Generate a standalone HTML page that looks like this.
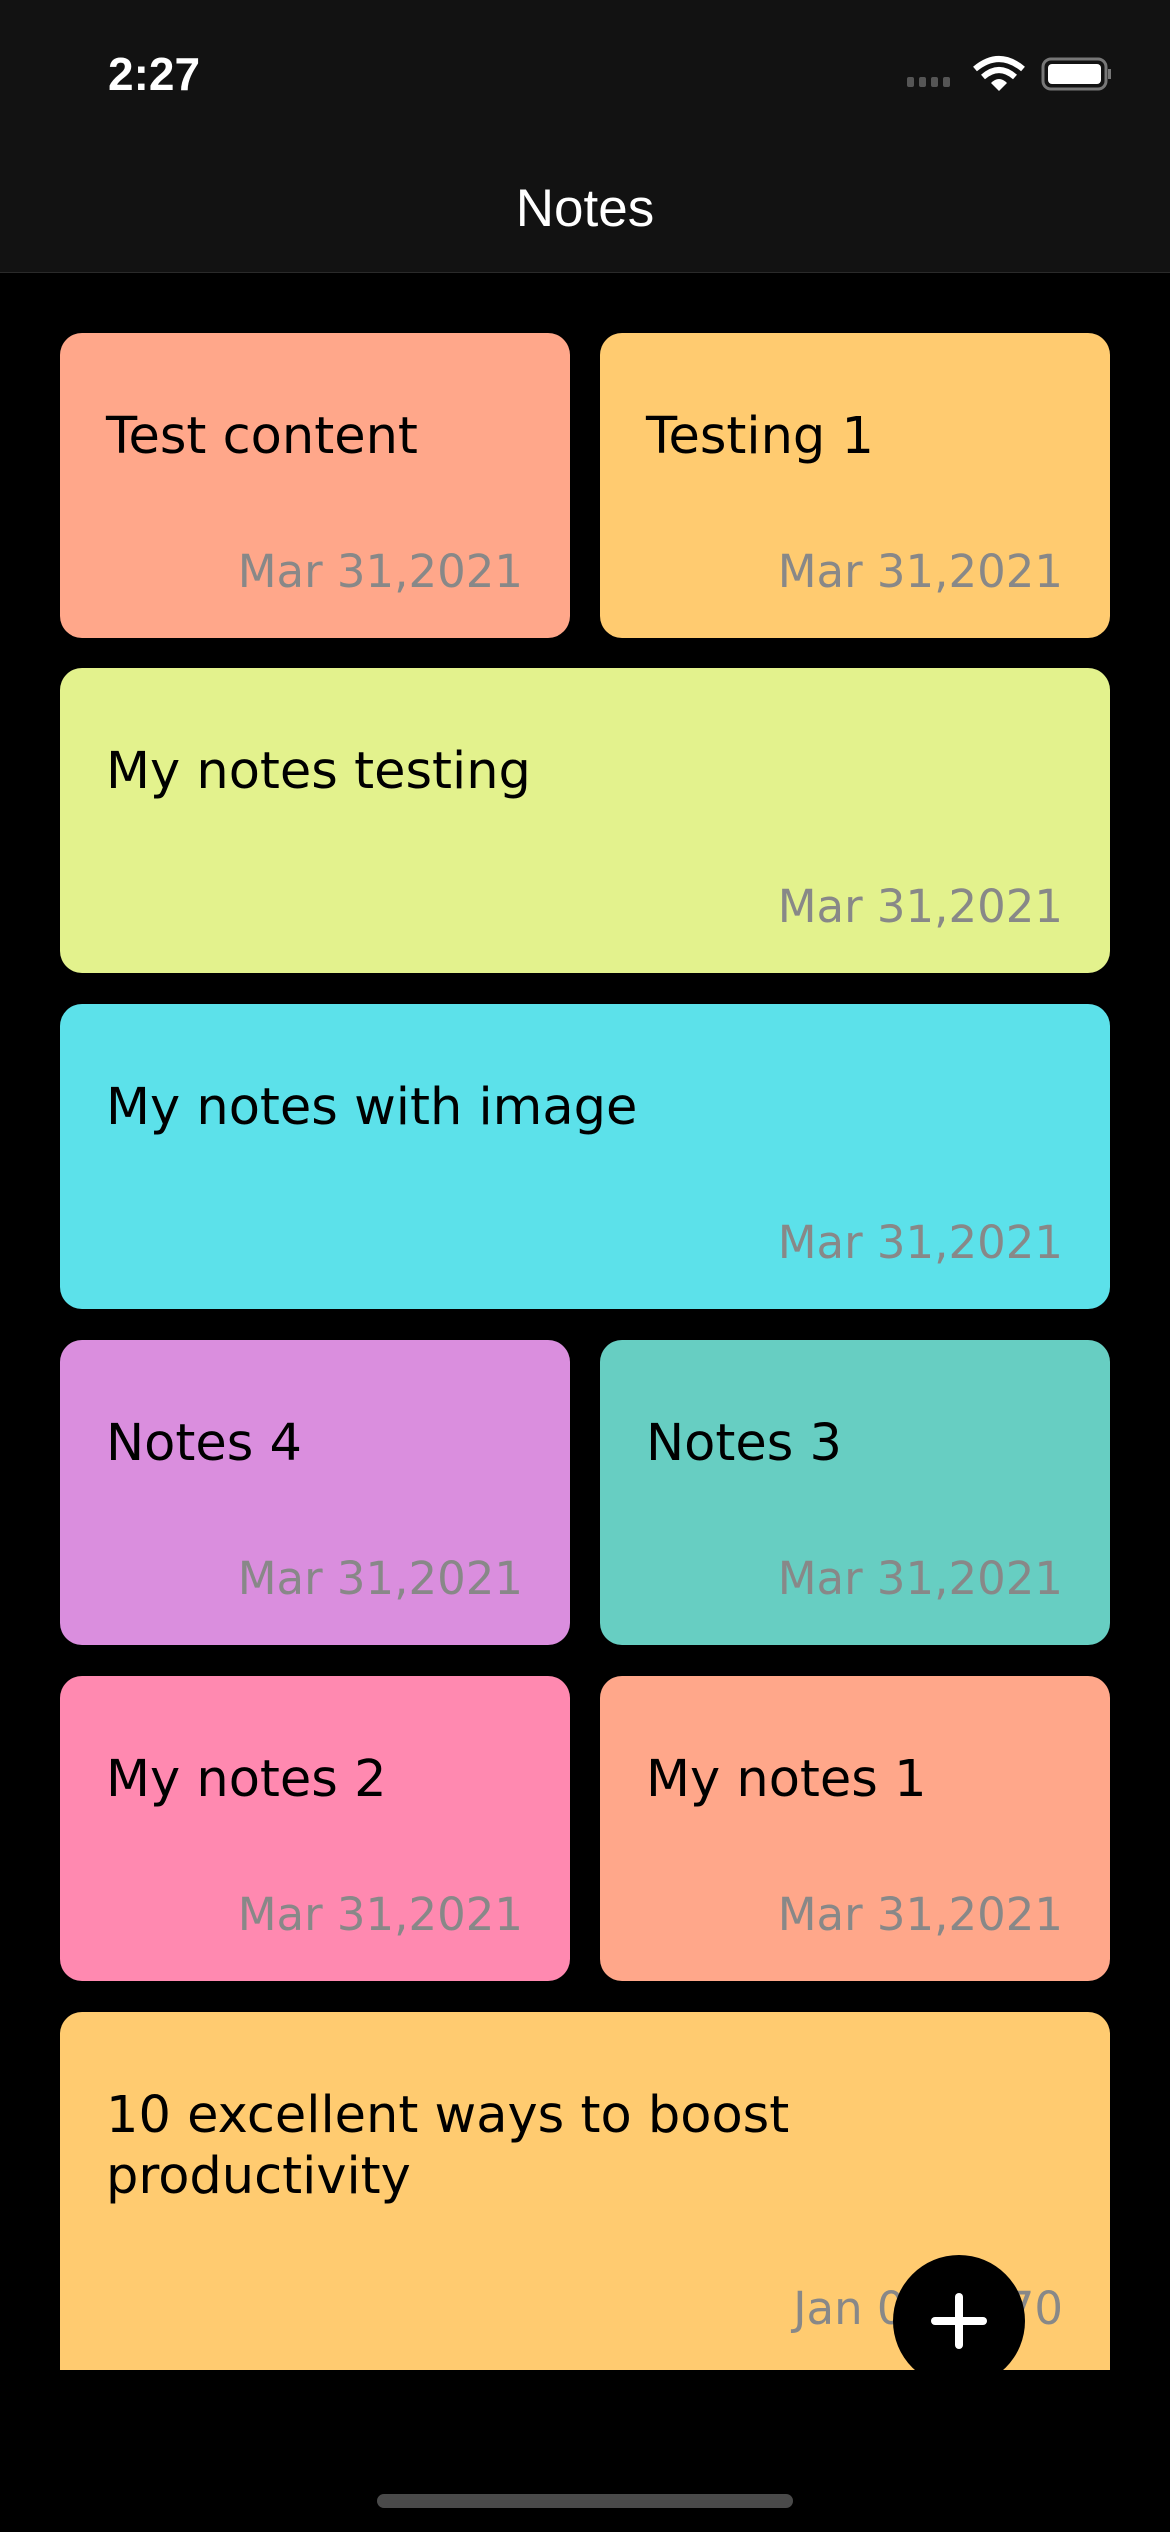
<!DOCTYPE html>
<html><head><meta charset="utf-8"><style>
*{margin:0;padding:0;box-sizing:border-box}
body{width:1170px;height:2532px;background:#000;position:relative;overflow:hidden;font-family:"DejaVu Sans","Liberation Sans",sans-serif}
.hdr{position:absolute;left:0;top:0;width:1170px;height:273px;background:#121212;border-bottom:1px solid #2a2a2a}
.time{position:absolute;left:108px;top:47px;color:#fff;font-size:46px;font-weight:bold;font-family:"Liberation Sans",sans-serif}
.title{position:absolute;left:0;width:1170px;top:178px;text-align:center;color:#fff;font-size:53px;font-family:"Liberation Sans",sans-serif}
.card{position:absolute;border-radius:22px;overflow:hidden}
.card .t{position:absolute;left:46px;top:73px;font-size:51px;color:#000;line-height:61px}
.card .d{position:absolute;right:47px;bottom:40px;font-size:45px;color:#888}
.l{left:60px;width:510px}.r{left:600px;width:510px}.f{left:60px;width:1050px}
.fab{position:absolute;left:893px;top:2255px;width:132px;height:132px;border-radius:50%;background:#000}
.fab:before{content:"";position:absolute;left:38px;top:62px;width:56px;height:8px;background:#fff;border-radius:4px}
.fab:after{content:"";position:absolute;left:62px;top:38px;width:8px;height:56px;background:#fff;border-radius:4px}
.home{position:absolute;left:377px;top:2494px;width:416px;height:14px;border-radius:7px;background:#4a4a4a}
</style></head><body>
<div class="hdr">
<div class="time">2:27</div>
<svg style="position:absolute;left:905px;top:55px" width="210" height="40">
<rect x="2" y="22" width="7" height="10" rx="2" fill="#555"/><rect x="14" y="22" width="7" height="10" rx="2" fill="#555"/><rect x="26" y="22" width="7" height="10" rx="2" fill="#555"/><rect x="38" y="22" width="7" height="10" rx="2" fill="#555"/>
<path d="M70 14 Q94 -6 118 14" stroke="#fff" stroke-width="6" fill="none"/><path d="M78 22 Q94 8 110 22" stroke="#fff" stroke-width="6" fill="none"/><path d="M94 36 L86 28 Q94 20 102 28 Z" fill="#fff"/>
<rect x="138" y="4" width="63" height="30" rx="8" fill="none" stroke="#777" stroke-width="3"/><rect x="143" y="9" width="53" height="20" rx="4" fill="#fff"/><rect x="203" y="14" width="3" height="10" fill="#777"/>
</svg>
<div class="title">Notes</div>
</div>
<div class="card l" style="top:333px;height:305px;background:#FFA78A"><div class="t">Test content</div><div class="d">Mar 31,2021</div></div>
<div class="card r" style="top:333px;height:305px;background:#FFCB70"><div class="t">Testing 1</div><div class="d">Mar 31,2021</div></div>
<div class="card f" style="top:668px;height:305px;background:#E3F28D"><div class="t">My notes testing</div><div class="d">Mar 31,2021</div></div>
<div class="card f" style="top:1004px;height:305px;background:#5CE1EA"><div class="t">My notes with image</div><div class="d">Mar 31,2021</div></div>
<div class="card l" style="top:1340px;height:305px;background:#DA8EDE"><div class="t">Notes 4</div><div class="d">Mar 31,2021</div></div>
<div class="card r" style="top:1340px;height:305px;background:#67CEC2"><div class="t">Notes 3</div><div class="d">Mar 31,2021</div></div>
<div class="card l" style="top:1676px;height:305px;background:#FF89B0"><div class="t">My notes 2</div><div class="d">Mar 31,2021</div></div>
<div class="card r" style="top:1676px;height:305px;background:#FFA78A"><div class="t">My notes 1</div><div class="d">Mar 31,2021</div></div>
<div class="card f" style="top:2012px;height:358px;background:#FFCB70;border-radius:22px 22px 0 0"><div class="t">10 excellent ways to boost<br>productivity</div><div class="d" style="bottom:35px">Jan 01,1970</div></div>
<div class="fab"></div>
<div class="home"></div>
</body></html>
